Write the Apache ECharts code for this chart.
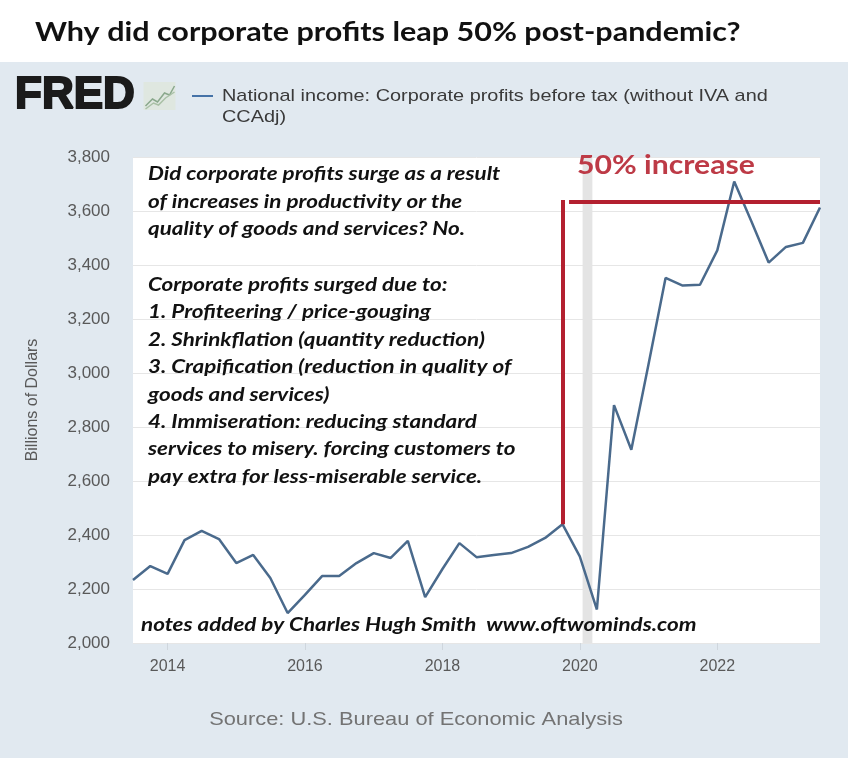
<!DOCTYPE html>
<html>
<head>
<meta charset="utf-8">
<title>Corporate profits</title>
<script src="https://cdn.jsdelivr.net/npm/echarts@6/dist/echarts.min.js"></script>
</head>
<body style="margin:0;padding:0;">
<div id="main" style="width:848px;height:758px;"></div>
<script type="text/javascript">

var quarters = [
  '2013-07-01', '2013-10-01',
  '2014-01-01', '2014-04-01', '2014-07-01', '2014-10-01',
  '2015-01-01', '2015-04-01', '2015-07-01', '2015-10-01',
  '2016-01-01', '2016-04-01', '2016-07-01', '2016-10-01',
  '2017-01-01', '2017-04-01', '2017-07-01', '2017-10-01',
  '2018-01-01', '2018-04-01', '2018-07-01', '2018-10-01',
  '2019-01-01', '2019-04-01', '2019-07-01', '2019-10-01',
  '2020-01-01', '2020-04-01', '2020-07-01', '2020-10-01',
  '2021-01-01', '2021-04-01', '2021-07-01', '2021-10-01',
  '2022-01-01', '2022-04-01', '2022-07-01', '2022-10-01',
  '2023-01-01', '2023-04-01', '2023-07-01'
];
var profits = [
  2233, 2285,
  2256, 2381, 2415, 2385,
  2296, 2326, 2241, 2111,
  2178, 2248, 2248, 2296,
  2333, 2315, 2378, 2170,
  2274, 2370, 2318, 2326,
  2333, 2356, 2389, 2440,
  2321, 2124, 2881, 2716,
  3034, 3352, 3324, 3327,
  3454, 3709, 3562, 3409,
  3467, 3482, 3613
];
var yearTicks = ['2014-01-01', '2016-01-01', '2018-01-01', '2020-01-01', '2022-01-01'];
var recession = ['2020-01-16', '2020-03-08'];
var preCovidPeak = ['2019-10-01', 2440];
var increaseLevel = 3633;

var notesTop = [
  'Did corporate profits surge as a result',
  'of increases in productivity or the',
  'quality of goods and services? No.'
];
var notesList = [
  'Corporate profits surged due to:',
  '1. Profiteering / price-gouging',
  '2. Shrinkflation (quantity reduction)',
  '3. Crapification (reduction in quality of',
  'goods and services)',
  '4. Immiseration: reducing standard',
  'services to misery. forcing customers to',
  'pay extra for less-miserable service.'
];

function t(d) { return +new Date(d); }

var seriesData = quarters.map(function (q, i) { return [t(q), profits[i]]; });
var tickValues = yearTicks.map(t);

var chartDom = document.getElementById('main');
var myChart = echarts.init(chartDom);
var option;

var red = '#b3202f';
var noteFont = 'Lato, "Open Sans", sans-serif';
var sansFont = '"Liberation Sans", Arial, sans-serif';

// the source picture is a little stretched sideways, so texts get a scaleX
function label(x, y, text, font, fill, opts) {
  opts = opts || {};
  return {
    type: 'text', x: x, y: y,
    scaleX: opts.sx || 1.15,
    z: 10,
    style: {
      text: text,
      font: font,
      fill: fill,
      align: opts.align || 'left',
      verticalAlign: opts.va || 'top',
      lineHeight: opts.lh
    }
  };
}

option = {
  backgroundColor: '#e1e9f0',
  animation: false,
  grid: {
    left: 133,
    right: 28,
    top: 157,
    bottom: 115,
    show: true,
    backgroundColor: '#ffffff',
    borderWidth: 0
  },
  xAxis: {
    type: 'value',
    min: t(quarters[0]),
    max: t(quarters[quarters.length - 1]),
    axisLine: { show: false },
    axisTick: {
      show: true,
      customValues: tickValues,
      length: 7,
      lineStyle: { color: '#cfd6dd' }
    },
    splitLine: { show: false },
    axisLabel: {
      customValues: tickValues,
      formatter: function (v) { return new Date(v).getUTCFullYear(); },
      color: '#595959',
      fontFamily: sansFont,
      fontSize: 16,
      margin: 16
    }
  },
  yAxis: {
    type: 'value',
    min: 2000,
    max: 3800,
    interval: 200,
    name: 'Billions of Dollars',
    nameLocation: 'middle',
    nameGap: 92,
    nameTextStyle: {
      color: '#595959',
      fontFamily: sansFont,
      fontSize: 16
    },
    axisLine: { show: false },
    axisTick: { show: false },
    axisLabel: {
      color: '#595959',
      fontFamily: sansFont,
      fontSize: 17,
      margin: 23
    },
    splitLine: { lineStyle: { color: '#e6e6e6', width: 1 } }
  },
  series: [
    {
      name: 'National income: Corporate profits before tax (without IVA and CCAdj)',
      type: 'line',
      data: seriesData,
      showSymbol: false,
      lineStyle: { color: '#4a6a8c', width: 2.5 },
      itemStyle: { color: '#4a6a8c' },
      z: 3,
      markArea: {
        silent: true,
        itemStyle: { color: '#e4e4e4' },
        data: [[{ xAxis: t(recession[0]) }, { xAxis: t(recession[1]) }]]
      },
      markLine: {
        silent: true,
        symbol: ['none', 'none'],
        label: { show: false },
        lineStyle: { color: red, width: 4, type: 'solid' },
        data: [
          [{ coord: [t(preCovidPeak[0]), preCovidPeak[1]] }, { coord: [t(preCovidPeak[0]), increaseLevel + 8] }],
          [{ coord: [t('2019-11-05'), increaseLevel] }, { coord: [t(quarters[quarters.length - 1]), increaseLevel] }]
        ]
      }
    }
  ],
  graphic: [
    { type: 'rect', left: 0, top: 0, shape: { width: 848, height: 62 }, style: { fill: '#ffffff' }, z: 0 },
    label(35, 32, 'Why did corporate profits leap 50% post-pandemic?', 'bold 27px ' + noteFont, '#111111', { sx: 1.13, va: 'middle' }),
    {
      type: 'text', x: 15, y: 96,
      style: {
        text: 'FRED',
        font: 'bold 44px ' + sansFont,
        fill: '#1b1b1b',
        stroke: '#1b1b1b',
        lineWidth: 2,
        verticalAlign: 'middle'
      }
    },
    {
      type: 'group', left: 143, top: 82,
      children: [
        { type: 'rect', shape: { x: 0, y: 0, width: 32, height: 28 }, style: { fill: '#dfe7e0' } },
        { type: 'polyline', shape: { points: [[2, 24], [9, 17], [14, 20], [21, 11], [26, 13], [31, 4]] }, style: { stroke: '#8aa88c', lineWidth: 1.5, fill: null } },
        { type: 'polyline', shape: { points: [[2, 27], [10, 21], [15, 23], [22, 16], [31, 10]] }, style: { stroke: '#a9c0a6', lineWidth: 1.5, fill: null } }
      ]
    },
    { type: 'rect', left: 192, top: 95, shape: { width: 21, height: 2 }, style: { fill: '#4572a7' } },
    label(222, 86, 'National income: Corporate profits before tax (without IVA and\nCCAdj)', '17px ' + sansFont, '#3a3a3a', { sx: 1.17, lh: 21 }),
    label(148, 160, notesTop.join('\n'), 'italic bold 19.5px ' + noteFont, '#111111', { lh: 27.5 }),
    label(148, 271, notesList.join('\n'), 'italic bold 19.5px ' + noteFont, '#111111', { lh: 27.4 }),
    label(141, 625, 'notes added by Charles Hugh Smith  www.oftwominds.com', 'italic bold 19.5px ' + noteFont, '#111111', { va: 'middle' }),
    label(577, 166, '50% increase', 'bold 26px ' + noteFont, '#bd3a46', { sx: 1.16, va: 'middle' }),
    label(416, 720, 'Source: U.S. Bureau of Economic Analysis', '18.5px ' + sansFont, '#737373', { sx: 1.18, align: 'center', va: 'middle' })
  ]
};

option && myChart.setOption(option);
</script>
</body>
</html>
